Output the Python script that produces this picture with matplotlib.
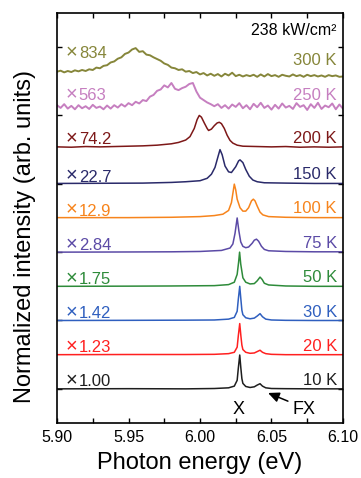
import numpy as np
import matplotlib
matplotlib.use("Agg")
import matplotlib.pyplot as plt

plt.rcParams['font.family'] = ['Liberation Sans', 'DejaVu Sans']

# ---------------- data ----------------
temps = ["10 K", "20 K", "30 K", "50 K", "75 K", "100 K", "150 K", "200 K", "250 K", "300 K"]
factors = ["1.00", "1.23", "1.42", "1.75", "2.84", "12.9", "22.7", "74.2", "563", "834"]

e_10K = [5.90, 5.95, 5.99, 6.01, 6.02, 6.024, 6.026, 6.0268, 6.0278, 6.0286, 6.0293, 6.030, 6.032,
         6.035, 6.038, 6.040, 6.042, 6.0437, 6.046, 6.05, 6.06, 6.08, 6.10]
i_10K = [0.0, 0.005, 0.0, 0.01, 0.03, 0.08, 0.25, 0.6, 0.99, 0.6, 0.3, 0.16, 0.07,
         0.04, 0.06, 0.11, 0.15, 0.08, 0.03, 0.01, 0.005, 0.0, 0.0]

e_20K = [5.90, 5.95, 5.99, 6.01, 6.02, 6.024, 6.026, 6.0268, 6.0278, 6.0286, 6.0293, 6.030, 6.032,
         6.035, 6.038, 6.040, 6.042, 6.0437, 6.046, 6.05, 6.06, 6.08, 6.10]
i_20K = [0.0, 0.005, 0.005, 0.01, 0.03, 0.07, 0.22, 0.55, 0.91, 0.55, 0.28, 0.15, 0.07,
         0.04, 0.05, 0.09, 0.13, 0.07, 0.03, 0.01, 0.0, 0.0, 0.0]

e_30K = [5.90, 5.95, 5.99, 6.01, 6.02, 6.024, 6.026, 6.0268, 6.0278, 6.0286, 6.0293, 6.030, 6.032,
         6.035, 6.038, 6.040, 6.042, 6.0437, 6.046, 6.05, 6.06, 6.08, 6.10]
i_30K = [0.0, 0.005, 0.01, 0.015, 0.04, 0.09, 0.27, 0.62, 1.0, 0.62, 0.3, 0.17, 0.08,
         0.05, 0.07, 0.13, 0.2, 0.11, 0.04, 0.015, 0.005, 0.0, 0.0]

e_50K = [5.90, 5.95, 5.98, 6.01, 6.02, 6.024, 6.026, 6.027, 6.0277, 6.0285, 6.030, 6.032, 6.035,
         6.038, 6.040, 6.042, 6.0435, 6.045, 6.048, 6.06, 6.08, 6.10]
i_50K = [0.0, 0.005, 0.01, 0.02, 0.05, 0.12, 0.35, 0.7, 1.0, 0.65, 0.25, 0.12, 0.07,
         0.08, 0.16, 0.27, 0.2, 0.09, 0.04, 0.01, 0.0, 0.0]

e_75K = [5.90, 5.95, 5.98, 6.00, 6.015, 6.021, 6.023, 6.0245, 6.026, 6.0272, 6.0285, 6.030, 6.032,
         6.034, 6.0365, 6.038, 6.0395, 6.041, 6.043, 6.045, 6.048, 6.06, 6.08, 6.10]
i_75K = [0.0, 0.005, 0.01, 0.02, 0.05, 0.12, 0.24, 0.55, 1.0, 0.62, 0.3, 0.17, 0.13,
         0.15, 0.26, 0.35, 0.38, 0.32, 0.17, 0.08, 0.04, 0.02, 0.01, 0.01]

e_100K = [5.90, 5.95, 5.98, 6.00, 6.01, 6.016, 6.020, 6.022, 6.023, 6.024, 6.025, 6.026, 6.028,
          6.030, 6.032, 6.034, 6.036, 6.0373, 6.0385, 6.040, 6.042, 6.044, 6.048, 6.06, 6.08, 6.10]
i_100K = [0.01, 0.01, 0.02, 0.04, 0.07, 0.11, 0.22, 0.45, 0.72, 0.99, 0.82, 0.55, 0.3,
          0.2, 0.2, 0.3, 0.5, 0.55, 0.5, 0.35, 0.17, 0.09, 0.04, 0.02, 0.01, 0.01]

e_150K = [5.90, 5.93, 5.96, 5.98, 5.99, 6.000, 6.005, 6.008, 6.0105, 6.0125, 6.014, 6.0155, 6.0175,
          6.020, 6.022, 6.025, 6.027, 6.028, 6.030, 6.032, 6.0345, 6.037, 6.040, 6.045, 6.06, 6.08, 6.10]
i_150K = [0.01, 0.015, 0.02, 0.04, 0.06, 0.09, 0.16, 0.28, 0.48, 0.78, 1.0, 0.85, 0.52,
          0.35, 0.33, 0.5, 0.67, 0.70, 0.62, 0.42, 0.22, 0.11, 0.06, 0.03, 0.02, 0.01, 0.01]

e_200K = [5.90, 5.91, 5.92, 5.93, 5.94, 5.95, 5.96, 5.97, 5.98, 5.985, 5.99, 5.993, 5.996, 5.998,
          5.9995, 6.001, 6.003, 6.005, 6.006, 6.008, 6.010, 6.012, 6.0135, 6.015, 6.017, 6.019,
          6.021, 6.023, 6.026, 6.03, 6.04, 6.05, 6.06, 6.07, 6.08, 6.09, 6.10]
i_200K = [0.08, 0.07, 0.09, 0.08, 0.09, 0.10, 0.11, 0.13, 0.17, 0.21, 0.28, 0.38, 0.62, 0.88,
          1.0, 0.95, 0.78, 0.62, 0.56, 0.6, 0.70, 0.78, 0.80, 0.76, 0.62, 0.42,
          0.27, 0.19, 0.13, 0.10, 0.09, 0.08, 0.09, 0.07, 0.08, 0.07, 0.08]

e_250K = list(np.round(np.arange(5.900, 6.10001, 0.0025), 4))
i_250K = [0.30, 0.22, 0.33, 0.20, 0.28, 0.18, 0.30, 0.21, 0.27, 0.19,
          0.31, 0.22, 0.26, 0.18, 0.29, 0.20, 0.30, 0.23, 0.33, 0.26,
          0.36, 0.30, 0.40, 0.35, 0.45, 0.42, 0.55, 0.60, 0.72, 0.76,
          0.88, 0.82, 0.95, 0.78, 0.74, 0.80, 0.84, 0.92, 0.95, 0.70,
          0.52, 0.45, 0.38, 0.33, 0.27, 0.33, 0.22, 0.30, 0.20, 0.32,
          0.25, 0.36, 0.21, 0.30, 0.18, 0.34, 0.24, 0.37, 0.22, 0.29,
          0.17, 0.31, 0.20, 0.35, 0.23, 0.28, 0.19, 0.36, 0.25, 0.30,
          0.16, 0.33, 0.22, 0.37, 0.19, 0.29, 0.24, 0.35, 0.18, 0.32, 0.20]

e_300K = list(np.round(np.arange(5.900, 6.10001, 0.0025), 4))
i_300K = [0.28, 0.31, 0.26, 0.30, 0.27, 0.32, 0.29, 0.33, 0.30, 0.35,
          0.33, 0.40, 0.38, 0.45, 0.47, 0.55, 0.58, 0.66, 0.70, 0.80,
          0.84, 0.93, 0.97, 0.86, 0.88, 0.78, 0.76, 0.70, 0.65, 0.60,
          0.52, 0.48, 0.40, 0.38, 0.33, 0.35, 0.28, 0.30, 0.24, 0.27,
          0.20, 0.24, 0.17, 0.22, 0.16, 0.21, 0.14, 0.22, 0.17, 0.25,
          0.15, 0.19, 0.14, 0.18, 0.15, 0.19, 0.13, 0.20, 0.14, 0.21,
          0.15, 0.18, 0.13, 0.19, 0.16, 0.14, 0.20, 0.15, 0.18, 0.13,
          0.19, 0.15, 0.18, 0.14, 0.17, 0.13, 0.18, 0.15, 0.17, 0.13, 0.14]

energies = [e_10K, e_20K, e_30K, e_50K, e_75K, e_100K, e_150K, e_200K, e_250K, e_300K]
intensities = [i_10K, i_20K, i_30K, i_50K, i_75K, i_100K, i_150K, i_200K, i_250K, i_300K]

# ---------------- style ----------------
colors = ["#1e1e1e", "#ff2020", "#2f5fbf", "#2e8b3a", "#5b4aa6",
          "#f7841c", "#2a2a6a", "#7d1818", "#c67fc0", "#86863a"]
widths = [1.1, 1.1, 1.1, 1.1, 1.1, 1.1, 1.1, 1.1, 1.4, 1.4]
left_dy = [0.07, 0.07, 0.07, 0.07, 0.07, 0.07, 0.06, 0.16, 0.45, 0.68]
right_dy = [0.12, 0.12, 0.11, 0.14, 0.13, 0.15, 0.14, 0.19, 0.45, 0.47]

fig = plt.figure(figsize=(3.61, 4.78), dpi=100)
ax = fig.add_axes([0.158, 0.115, 0.792, 0.858])

for k in range(len(temps)):
    e = np.asarray(energies[k])
    y = np.asarray(intensities[k]) + k
    ax.plot(e, y, color=colors[k], lw=widths[k], solid_joinstyle='round')
    ax.text(5.9058, k + left_dy[k], "\u00d7", color=colors[k],
            fontsize=14.5, ha='left', va='baseline')
    ax.text(5.9152, k + left_dy[k], factors[k], color=colors[k],
            fontsize=12, ha='left', va='baseline')
    ax.text(6.0958, k + right_dy[k], temps[k], color=colors[k],
            fontsize=12, ha='right', va='baseline')

ax.text(6.0955, 10.35, "238 kW/cm\u00b2", fontsize=11.5, ha='right', va='baseline', color='black')

ax.text(6.0273, -0.73, "X", fontsize=13, ha='center', va='baseline')
ax.text(6.0727, -0.73, "FX", fontsize=13, ha='center', va='baseline')
ax.annotate("", xy=(6.0476, -0.12), xytext=(6.0615, -0.36),
            arrowprops=dict(arrowstyle='-|>,head_length=0.55,head_width=0.25', color='black',
                            lw=1.1, shrinkA=0, shrinkB=0, mutation_scale=12))

ax.set_xlim(5.90, 6.10)
ax.set_ylim(-1, 11)
ax.set_xticks([5.90, 5.95, 6.00, 6.05, 6.10])
ax.set_xticklabels(["5.90", "5.95", "6.00", "6.05", "6.10"])
ax.set_xticks(np.arange(5.90, 6.1001, 0.025), minor=True)
ax.set_yticks(np.arange(0, 11, 2))
ax.set_yticklabels([])
ax.tick_params(axis='both', which='both', direction='in', top=True, right=True,
               length=3.5, width=1.0, labelsize=11.5, pad=5)
for s in ax.spines.values():
    s.set_linewidth(1.2)

ax.set_xlabel("Photon energy (eV)", fontsize=17, labelpad=5)
ax.set_ylabel("Normalized intensity (arb. units)", fontsize=17)
ax.yaxis.set_label_coords(-0.075, 0.455)

fig.savefig("out.png", dpi=100)
